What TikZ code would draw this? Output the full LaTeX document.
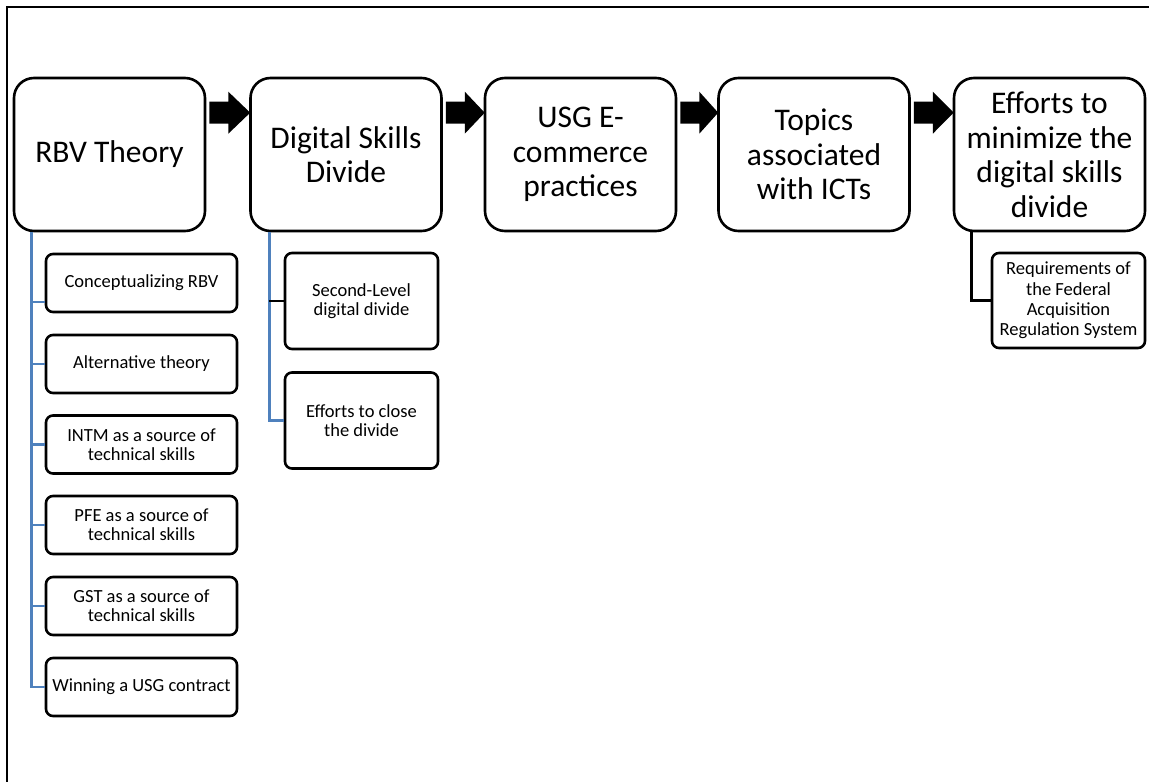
\documentclass[tikz,border=0pt]{standalone}
\usepackage{fontspec}
\setmainfont{Carlito}
\usetikzlibrary{calc}
\definecolor{acblue}{RGB}{79,129,189}
\tikzset{
  mainbox/.style={draw, line width=2.6pt, rounded corners=20pt, minimum width=191pt, minimum height=153pt, align=center, inner sep=1pt, font=\fontsize{31.5}{34.5}\selectfont},
  subbox/.style={draw, line width=2.6pt, rounded corners=7pt, minimum width=191pt, minimum height=58pt, align=center, inner sep=1pt, font=\fontsize{18.5}{19}\selectfont},
  smallbox/.style={subbox, minimum width=153pt, minimum height=96pt},
  blueline/.style={draw=acblue, line width=2.6pt},
  blackline/.style={draw=black, line width=2.6pt},
  frame/.style={draw, line width=2.4pt}
}
\begin{document}
\begin{tikzpicture}[x=1pt,y=1pt]
\useasboundingbox (0,0) rectangle (1149,-782);
\draw[frame] (7,-782) -- (7,-7) -- (1149,-7);

\node[mainbox] (rbv) at (109.5,-154.5) {RBV Theory};
\node[mainbox] (dsd) at (346,-154.5) {Digital Skills\\Divide};
\node[mainbox] (usg) at (580.5,-154.5) {USG E-\\commerce\\practices};
\node[mainbox] (top) at (814,-154.5) {Topics\\associated\\with ICTs};
\node[mainbox] (eff) at (1049.5,-154.5) {Efforts to\\minimize the\\digital skills\\divide};

\foreach \a/\b in {rbv/dsd, dsd/usg, usg/top, top/eff} {
  \fill let \p1=(\a.north east), \p2=(\b.north west) in
    (\x1+3,\y1-25) -- (\x1+22,\y1-25) -- (\x1+22,\y1-15) -- (\x2+1,\y1-36)
    -- (\x1+22,\y1-57) -- (\x1+22,\y1-47) -- (\x1+3,\y1-47) -- cycle;
}

\node[subbox] (c1) at (141.5,-283) {Conceptualizing RBV};
\node[subbox] (c2) at (141.5,-364) {Alternative theory};
\node[subbox] (c3) at (141.5,-444.5) {INTM as a source of\\technical skills};
\node[subbox] (c4) at (141.5,-525) {PFE as a source of\\technical skills};
\node[subbox] (c5) at (141.5,-606) {GST as a source of\\technical skills};
\node[subbox] (c6) at (141.5,-687) {Winning a USG contract};

\node[smallbox] (d1) at (361.5,-301) {Second-Level\\digital divide};
\node[smallbox] (d2) at (361.5,-420.5) {Efforts to close\\the divide};

\node[smallbox, minimum height=95pt, font=\fontsize{18.5}{20.3}\selectfont] (req) at (1068.5,-300.5) {Requirements of\\the Federal\\Acquisition\\Regulation System};

% RBV tree
\coordinate (t1) at ([xshift=19pt]rbv.south west);
\draw[blueline] (t1) |- (c6.west);
\draw[blueline] (t1 |- 0,-302) -- ([yshift=-19pt]c1.west);
\foreach \c in {c2,c3,c4,c5} {
  \draw[blueline] (t1 |- \c.west) -- (\c.west);
}

% Digital tree
\coordinate (t2) at ([xshift=20pt]dsd.south west);
\draw[blueline] (t2) |- (d2.west);
\draw[blackline] (t2 |- d1.west) -- (d1.west);

% Efforts tree
\coordinate (t3) at ([xshift=19pt]eff.south west);
\draw[blackline] (t3) |- (req.west);
\end{tikzpicture}
\end{document}
